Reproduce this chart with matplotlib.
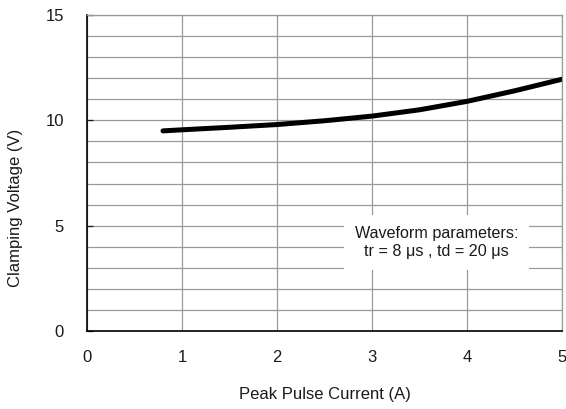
import matplotlib.pyplot as plt

plt.rcParams['font.family'] = ['Liberation Sans', 'DejaVu Sans']

# peak pulse current (A) vs clamping voltage (V)
current = [0.8, 1.0, 1.5, 2.0, 2.5, 3.0, 3.5, 4.0, 4.5, 5.0]
voltage = [9.5, 9.55, 9.67, 9.8, 9.98, 10.2, 10.5, 10.9, 11.4, 11.95]

x_ticks = [0, 1, 2, 3, 4, 5]
y_ticks = [0, 5, 10, 15]

fig = plt.figure(figsize=(5.66, 4.09), dpi=100)
ax = fig.add_axes([87 / 566, 1 - 331 / 409, 475 / 566, 316 / 409])

ax.set_xlim(0, 5)
ax.set_ylim(0, 15)
ax.set_xticks(x_ticks)
ax.set_yticks(y_ticks)
ax.set_yticks(range(0, 16), minor=True)
ax.grid(True, which='major', axis='x', color='#999999', lw=0.9)
ax.grid(True, which='both', axis='y', color='#999999', lw=0.9)
ax.set_axisbelow(True)

for side in ['top', 'right']:
    ax.spines[side].set_color('#999999')
    ax.spines[side].set_linewidth(0.9)
for side in ['left', 'bottom']:
    ax.spines[side].set_color('black')
    ax.spines[side].set_linewidth(1.2)

ax.tick_params(axis='both', which='major', direction='in', length=4, width=0.9,
               labelsize=12, colors='#1a1a1a')
ax.tick_params(axis='x', pad=13.5, length=0)
ax.tick_params(axis='y', which='minor', length=0)
ax.tick_params(axis='y', pad=16.5)

# the curve
ax.plot(current, voltage, color='black', lw=3.6, solid_capstyle='round')

ax.text(3.68, 4.2, "Waveform parameters:\ntr = 8 μs , td = 20 μs",
        ha='center', va='center', fontsize=11.6, color='#1a1a1a', linespacing=1.2,
        bbox=dict(facecolor='white', edgecolor='none', pad=8))

ax.set_xlabel("Peak Pulse Current (A)", fontsize=12, color='#1a1a1a')
ax.set_ylabel("Clamping Voltage (V)", fontsize=12, color='#1a1a1a')
ax.xaxis.set_label_coords(0.5, -(395 - 331) / 316)
ax.xaxis.label.set_va('center')
ax.yaxis.set_label_coords(-(87 - 15.5) / 475, (331 - 208) / 316)
ax.yaxis.label.set_va('center')

fig.savefig("out.png", dpi=100)
